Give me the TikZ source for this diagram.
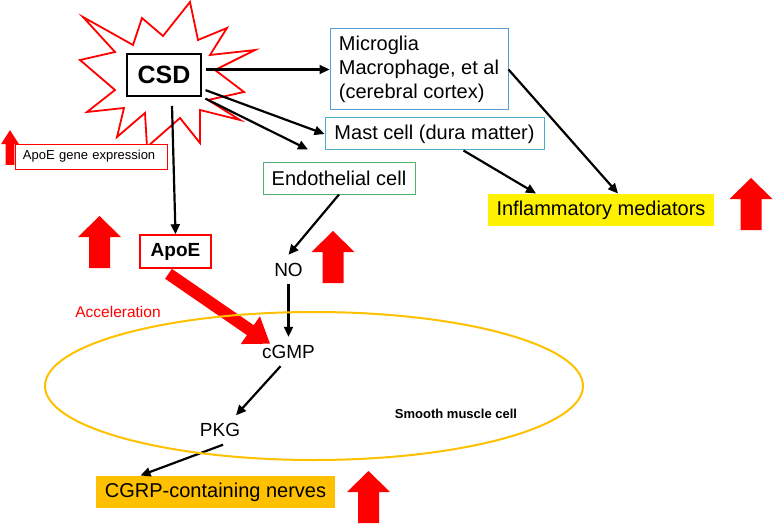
\documentclass[tikz,border=0pt]{standalone}
\usepackage{fontspec}
\setmainfont{Liberation Sans}
\usepackage{tikz}
\usetikzlibrary{arrows.meta,calc}
\definecolor{microblue}{RGB}{91,155,213}
\definecolor{mastblue}{RGB}{75,172,198}
\definecolor{endogreen}{RGB}{84,176,110}
\definecolor{cgrporange}{RGB}{255,192,0}
\tikzset{
		uparr/.pic={
		\fill[red] (-10.5,0) -- (-10.5,-31) -- (-21.5,-31) -- (0,-52) -- (21.5,-31) -- (10.5,-31) -- (10.5,0) -- cycle;
		},
		}
\tikzset{conn/.style={-{Triangle[length=10pt,width=9pt]},line width=2.2pt}}
\begin{document}
\begin{tikzpicture}[x=1pt,y=-1pt]
					\tikzstyle{box}=[draw,fill=white,line width=1pt,inner sep=0pt,align=center,font=\fontsize{20}{24}\selectfont]
					\tikzstyle{lbl}=[inner sep=3pt,outer sep=5pt,font=\fontsize{19}{23}\selectfont]
					\useasboundingbox (0,0) rectangle (774,524);
					%STARBURST round CSD
					\draw[red,line width=1.8pt,line join=miter] (83,17) -- (133,45) -- (142,18) -- (163,36) -- (190,2) -- (198,40) -- (227,28) -- (210,55) -- (255,50) -- (215,70) -- (244,92) -- (208,100) -- (240,120) -- (200,110) -- (200,143) -- (180,118) -- (147,147) -- (145,113) -- (117,137) -- (124,108) -- (87,112) -- (115,90) -- (80,60) -- (115,52) -- cycle;
					%NODES for CSD
					\node[draw,fill=white,line width=1.6pt,minimum width=74pt,minimum height=42pt,font=\bfseries\fontsize{25}{30}\selectfont](csd) at (164,75){CSD};
					\node[box,draw=red,line width=0.8pt,minimum width=152pt,minimum height=25pt,text width=136pt,align=left,font=\fontsize{13}{16}\selectfont](apoegene) at (91,156.5){ApoE gene expression};
					%NODES for cells
					\node[box,draw=microblue,minimum width=178pt,minimum height=81pt,align=left](micro) at (419,69.5){Microglia\\Macrophage, et al\\(cerebral cortex)};
					\node[box,draw=mastblue,minimum width=219pt,minimum height=32pt](mast) at (434.5,134){Mast cell (dura matter)};
					\node[box,draw=endogreen,minimum width=152pt,minimum height=31pt](endo) at (339,178.5){Endothelial cell};
					\node[box,draw=none,fill=yellow,minimum width=226pt,minimum height=32pt](inflam) at (601,210){Inflammatory mediators};
					%NODES for pathway
					\node[box,draw=red,line width=1.6pt,minimum width=71pt,minimum height=33pt,font=\bfseries\fontsize{19}{23}\selectfont](apoe) at (175.5,251.5){ApoE};
					\node[lbl](no) at (288.5,269.5){NO};
					\node[lbl](cgmp) at (288.5,351.5){cGMP};
					\node[lbl](pkg) at (220,430){PKG};
					\node[box,draw=none,fill=cgrporange,minimum width=239pt,minimum height=32pt](cgrp) at (215.5,492){CGRP-containing nerves};
					\node[text=red,font=\fontsize{15.5}{18}\selectfont](accel) at (118,311.5){Acceleration};
					\node[font=\bfseries\fontsize{13}{16}\selectfont](smooth) at (456,414){Smooth muscle cell};
					%UP ARROWS
					\pic[xscale=0.42,yscale=0.67] at (10,165) {uparr};
					\pic at (99.5,268) {uparr};
					\pic at (333,283) {uparr};
					\pic at (751,230) {uparr};
					\pic at (368.5,523) {uparr};
					%PATHS
					\draw[conn,shorten <=4pt] (csd.east |- micro.west) -- (micro.west);
					\draw[conn,shorten <=4pt] (csd.-20) -- (mast.west);
					\draw[conn,shorten <=4pt] (csd.south east) -- ($(endo.north)+(-31,-13)$);
					\draw[conn] ($(csd.south)+(8,9)$) -- (apoe.north);
					\draw[conn] (micro.east) -- ([xshift=17pt]inflam.north);
					\draw[conn] ([xshift=29pt]mast.south) -- ([xshift=-65pt]inflam.north);
					\draw[conn] (endo.south) -- (no.north);
					\draw[conn] (no) -- (cgmp);
					\draw[conn] ([xshift=-8pt]cgmp.south) -- ([xshift=16pt]pkg.north);
					\draw[conn] ([xshift=3pt]pkg.south) -- ([xshift=-75pt]cgrp.north);
					\draw[red,line width=12pt,-{Triangle[length=24pt,width=32pt]}] ($(apoe.south)+(-7,5)$) -- ($(cgmp.north west)+(16,7)$);
					%CELL
					\draw[cgrporange,line width=2pt] (314,386) ellipse [x radius=269,y radius=74];
				\end{tikzpicture}
\end{document}
